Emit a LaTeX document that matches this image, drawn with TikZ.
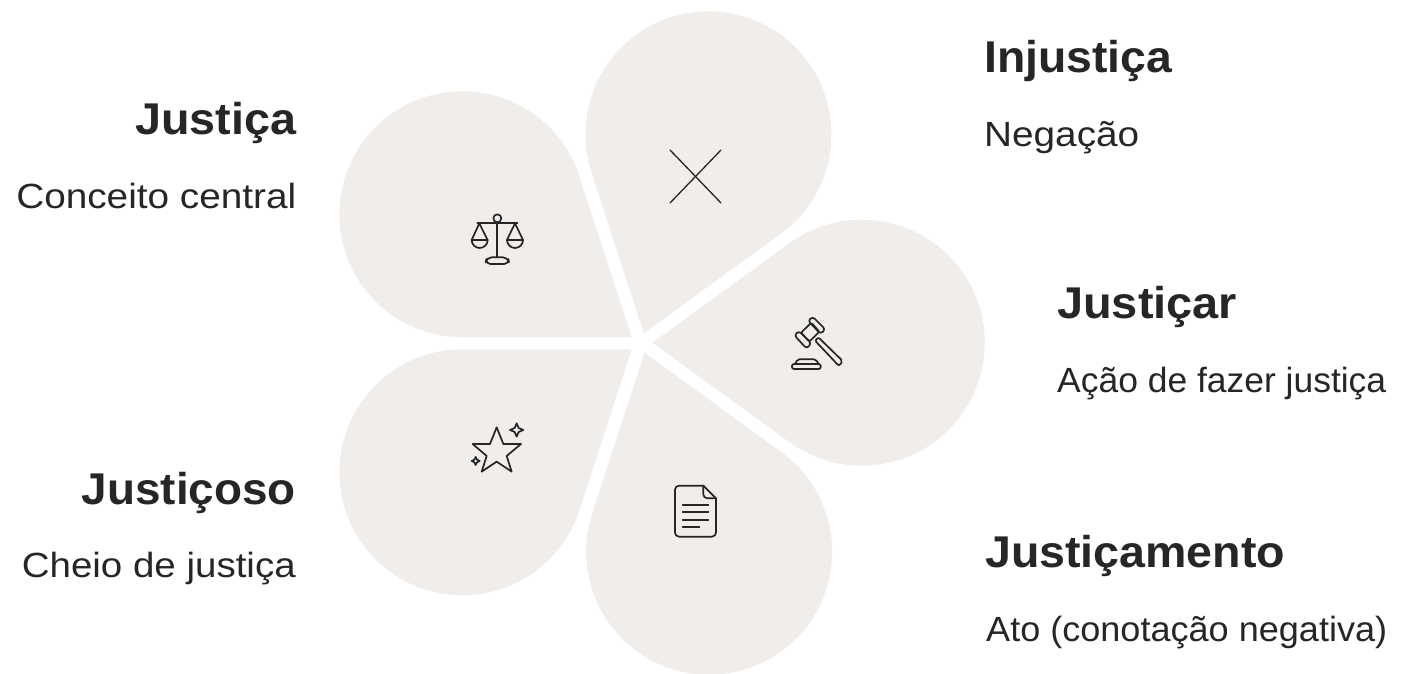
\documentclass[tikz,border=0pt]{standalone}
\usepackage{fontspec}
\usepackage{graphicx}
\setmainfont{Liberation Sans}
\definecolor{petalc}{HTML}{F0EDEB}
\definecolor{ink}{HTML}{262626}
\tikzset{
  x=1pt,y=1pt,
  petal/.style={fill=petalc,draw=none},
  icon/.style={draw=ink,line width=1.7pt,line join=round,line cap=round},
  thinicon/.style={draw=ink,line width=1.3pt,line cap=round},
  head/.style={inner sep=0pt,text=ink,font=\fontsize{44.5}{45}\selectfont\bfseries},
  sub/.style={inner sep=0pt,text=ink,font=\fontsize{35}{37}\selectfont},
}
\newcommand{\fitw}[2]{\resizebox{#1pt}{\height}{#2}}
\newcommand{\petalat}[3]{\fill[petal] (#1,{674-#2}) -- ++(#3:169.3pt) arc[start angle=#3-90,delta angle=252,radius=123pt] -- cycle;}
\begin{document}
\begin{tikzpicture}
\useasboundingbox (0,0) rectangle (1421,674);
\petalat{631.7}{337.3}{108}
\petalat{643.8}{333.3}{36}
\petalat{652.5}{342.7}{-36}
\petalat{644.5}{352.7}{-108}
\petalat{631.7}{349.3}{180}
\begin{scope}[shift={(0,674)},y=-1pt]
\coordinate (xa) at (670,150); \coordinate (xb) at (721,203);
\coordinate (xc) at (721,150); \coordinate (xd) at (670,203);
\draw[thinicon] (xa) -- (xb);
\draw[thinicon] (xc) -- (xd);
\node[head,anchor=base east] (t1) at (296.5,134.5) {\fitw{161}{Justiça}};
\node[sub,anchor=base east] (s1) at (296.5,208.5) {\fitw{280}{Conceito central}};
\node[head,anchor=base east] (t2) at (296,505) {\fitw{214}{Justiçoso}};
\node[sub,anchor=base east] (s2) at (296,578) {\fitw{274}{Cheio de justiça}};
\node[head,anchor=base west] (t3) at (984,72.7) {\fitw{188}{Injustiça}};
\node[sub,anchor=base west] (s3) at (984,146.7) {\fitw{155}{Negação}};
\node[head,anchor=base west] (t4) at (1057,319) {\fitw{180}{Justiçar}};
\node[sub,anchor=base west] (s4) at (1057,392.5) {\fitw{329}{Ação de fazer justiça}};
\node[head,anchor=base west] (t5) at (985,568) {\fitw{300}{Justiçamento}};
\node[sub,anchor=base west] (s5) at (986,642) {\fitw{401}{Ato (conotação negativa)}};
\end{scope}
% scales
\begin{scope}[shift={(440,474)},x=0.3333pt,y=-0.3333pt]
\draw[icon] (172,55) circle[radius=4pt];
\draw[icon] (112,70) -- (232,70);
\draw[icon] (172,67) -- (172,172);
\draw[icon] (118,70) -- (95,120) -- (143,120) -- cycle;
\draw[icon] (95,120) arc[start angle=180,end angle=360,radius=8pt];
\draw[icon] (225,70) -- (201,120) -- (249,120) -- cycle;
\draw[icon] (201,120) arc[start angle=180,end angle=360,radius=8pt];
\draw[icon,rounded corners=5pt] (136,192) -- (140,172) -- (204,172) -- (208,192) -- cycle;
\end{scope}
% gavel
\begin{scope}[shift={(770,374)},x=0.3333pt,y=-0.3333pt]
\draw[icon,rounded corners=1.5pt] (93,98) -- (124,68) -- (148,95) -- (118,125) -- cycle;
\draw[icon,rounded corners=3pt] (73,106) -- (87,93) -- (124,130) -- (110,146) -- cycle;
\draw[icon,rounded corners=3pt] (114,62) -- (128,50) -- (166,88) -- (152,102) -- cycle;
\draw[icon,rounded corners=2pt] (135,122) -- (145,112) -- (218,183) -- (207,198) -- cycle;
\draw[icon,rounded corners=2pt] (76,191) -- (82,178) -- (138,178) -- (145,191);
\draw[icon,rounded corners=2pt] (66,192) -- (152,192) -- (152,207) -- (66,207) -- cycle;
\end{scope}
% star
\begin{scope}[shift={(455,264)},x=0.3333pt,y=-0.3333pt]
\draw[icon] (125,52) -- (145,102) -- (198,102) -- (155,138) -- (170,185) -- (125,155) -- (80,185) -- (95,138) -- (53,102) -- (105,102) -- cycle;
\draw[icon] (185,40) -- (191,54) -- (205,60) -- (191,66) -- (185,80) -- (179,66) -- (165,60) -- (179,54) -- cycle;
\draw[icon] (62,141) -- (66,149) -- (74,153) -- (66,157) -- (62,165) -- (58,157) -- (50,153) -- (58,149) -- cycle;
\end{scope}
% document
\begin{scope}[shift={(660,204)},x=0.3333pt,y=-0.3333pt]
\draw[icon,rounded corners=4pt] (130,47) -- (45,47) -- (45,200) -- (168,200) -- (168,85);
\draw[icon] (130,47) -- (168,85);
\draw[icon,rounded corners=4pt] (130,47) -- (130,85) -- (168,85);
\draw[icon] (68,105) -- (145,105);
\draw[icon] (68,127) -- (145,127);
\draw[icon] (68,150) -- (145,150);
\draw[icon] (68,172) -- (118,172);
\end{scope}
\end{tikzpicture}
\end{document}
